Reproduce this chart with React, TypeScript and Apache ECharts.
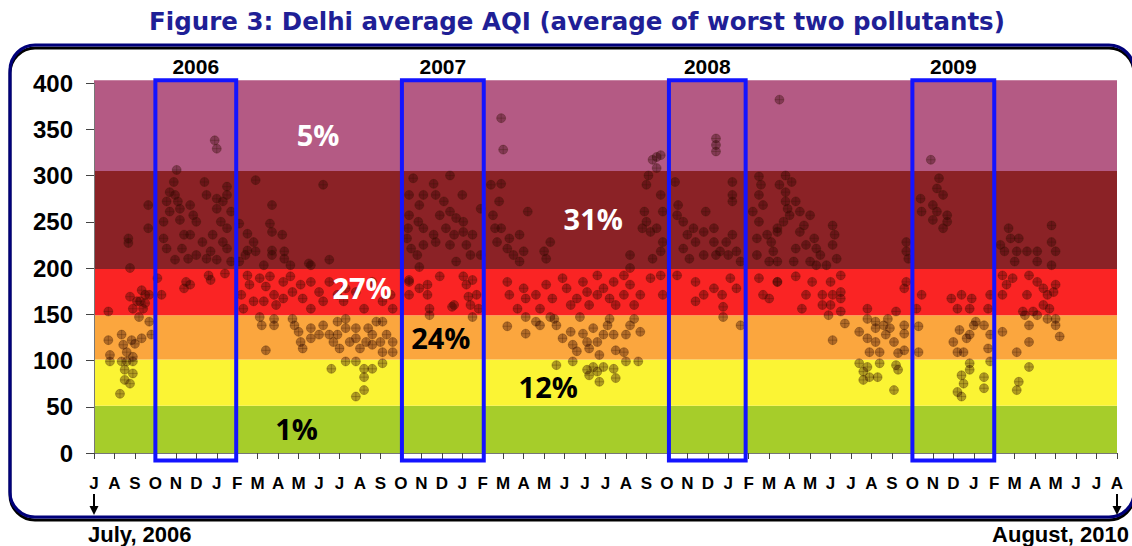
import React, { useEffect, useRef } from "react";
import * as echarts from "echarts";

// ---- Axis / category data ----
const monthLabels = [
  "J", "A", "S", "O", "N", "D",
  "J", "F", "M", "A", "M", "J", "J", "A", "S", "O", "N", "D",
  "J", "F", "M", "A", "M", "J", "J", "J", "A", "S", "O", "N", "D",
  "J", "F", "M", "A", "M", "J", "J", "A", "S", "O", "N", "D",
  "J", "F", "M", "A", "M", "J", "J", "A",
];
const yTicks = [0, 50, 100, 150, 200, 250, 300, 350, 400];

// ---- AQI category bands ----
const bandLow = [0, 51, 101, 149, 199, 305];
const bandHigh = [51, 101, 149, 199, 305, 403];
const bandColors = ["#a6cd2a", "#fbf434", "#fba63e", "#fa2424", "#8b2226", "#b45a84"];

// ---- Share of days in each band (annotations) ----
const pctText = ["5%", "31%", "27%", "24%", "12%", "1%"];
const pctMonth = [10.95, 24.4, 13.1, 16.95, 22.2, 9.9];
const pctAqi = [344, 254, 179, 125, 72, 27];
const pctColor = ["#ffffff", "#ffffff", "#ffffff", "#000000", "#000000", "#000000"];

// ---- Winter boxes (Oct - Jan) ----
const boxStart = [3.0, 15.05, 28.1, 40.0];
const boxEnd = [6.95, 19.05, 31.85, 44.0];
const boxYear = ["2006", "2007", "2008", "2009"];

// ---- Daily AQI readings: [month index from July 2006, AQI] ----
const summer2006: [number, number][] = [
  [0.7, 122], [1.35, 128], [1.43, 117], [1.84, 122], [2.33, 124], [2.0, 118], [1.6, 109],
  [0.78, 106], [1.9, 104], [1.6, 99], [0.78, 99], [1.35, 99], [1.9, 99], [1.5, 90], [1.9, 86],
  [1.5, 79], [1.76, 75], [1.27, 64], [2.7, 142], [2.8, 128], [2.2, 147],
  [0.7, 153], [1.76, 169], [2.33, 176], [2.5, 171], [1.9, 156], [2.4, 156], [2.1, 164],
  [2.7, 171], [2.25, 164], [2.5, 162],
  [1.68, 232], [1.76, 200], [2.65, 243], [2.65, 268], [1.68, 227],
];
const winter2006: [number, number][] = [
  [4.04, 306], [3.9, 293], [3.7, 282], [3.96, 279], [3.55, 272], [4.1, 272], [4.2, 264],
  [3.7, 261], [3.4, 250], [4.2, 252], [4.7, 268], [4.85, 257], [5.4, 293], [5.5, 279],
  [6.0, 275], [6.5, 288], [6.5, 279], [6.3, 272], [6.0, 264], [6.2, 250], [5.8, 236],
  [5.0, 250], [4.4, 236], [3.4, 232], [3.55, 221], [4.3, 221], [4.7, 236], [5.0, 214],
  [5.5, 210], [5.3, 228], [6.3, 228], [6.5, 221], [5.7, 218], [6.5, 243], [6.0, 209],
  [3.96, 209], [4.6, 210], [6.7, 261], [6.7, 207], [5.9, 338], [6.0, 329],
  [5.6, 192], [4.7, 182], [4.5, 185], [5.7, 187], [6.4, 194], [3.3, 171], [3.1, 189], [4.4, 178],
];
const year2007: [number, number][] = [
  [7.9, 295], [8.7, 268], [8.6, 248], [8.7, 239], [7.5, 237], [7.8, 228], [7.5, 219],
  [7.4, 214], [7.1, 207], [7.9, 218], [8.7, 219], [8.7, 214], [9.2, 236], [9.3, 218],
  [9.3, 210], [8.3, 203], [9.6, 203], [11.2, 290], [11.5, 209], [10.6, 203], [7.1, 248],
  [7.5, 192], [7.2, 171], [7.3, 156], [7.6, 182], [8.1, 189], [8.4, 180], [8.6, 191],
  [8.8, 171], [8.9, 160], [9.25, 185], [9.6, 191], [9.7, 174], [10.1, 182], [10.2, 167],
  [10.5, 205], [10.6, 185], [10.6, 156], [11.0, 174], [11.2, 164], [11.5, 185], [11.9, 171],
  [12.2, 164], [12.3, 178], [12.8, 174], [13.2, 156], [13.6, 185], [14.1, 164], [14.5, 171],
  [14.6, 156], [7.8, 164], [8.3, 164], [9.25, 167],
  [8.1, 147], [8.2, 138], [8.8, 145], [8.8, 138], [9.7, 145], [9.8, 138], [10.0, 131],
  [10.1, 120], [10.2, 113], [10.6, 135], [10.6, 124], [11.0, 128], [11.2, 138], [11.5, 128],
  [11.7, 120], [11.9, 142], [11.9, 128], [12.0, 113], [12.3, 135], [12.5, 120], [12.8, 135],
  [12.8, 124], [13.0, 113], [13.3, 120], [13.6, 128], [13.6, 117], [13.8, 142], [14.0, 120],
  [14.1, 142], [14.3, 128], [14.6, 120], [14.6, 109], [8.4, 111], [12.3, 145], [14.1, 109],
  [13.4, 135],
  [11.6, 91], [12.3, 99], [12.8, 99], [13.2, 91], [13.2, 82], [14.1, 97], [13.2, 68],
  [12.8, 61], [13.6, 91],
];
const winter2007: [number, number][] = [
  [15.6, 297], [15.4, 279], [15.9, 268], [16.1, 279], [15.4, 257], [15.85, 250], [16.1, 243],
  [15.3, 232], [15.5, 221], [16.1, 225], [15.8, 214], [15.9, 201], [15.35, 243],
  [15.4, 185], [15.9, 178], [16.3, 171], [15.4, 171], [16.4, 156],
  [16.6, 291], [17.4, 300], [16.7, 279], [17.1, 272], [18.0, 279], [16.9, 257], [17.4, 261],
  [17.7, 254], [18.05, 250], [16.6, 236], [17.2, 243], [17.6, 236], [18.05, 239], [16.7, 228],
  [17.4, 225], [18.2, 225], [18.5, 236], [18.9, 264], [18.9, 214], [18.4, 214], [17.7, 207],
  [16.9, 191], [18.05, 191], [18.2, 182], [18.5, 187], [18.7, 171], [18.4, 160], [17.6, 160],
  [18.3, 169], [18.8, 156], [15.4, 187], [16.3, 182], [17.5, 158],
  [18.5, 147], [16.4, 149],
];
const year2008: [number, number][] = [
  [19.9, 362], [20.0, 328], [27.5, 320], [27.7, 322], [27.5, 308], [27.3, 317],
  [19.4, 290], [19.9, 291], [19.8, 272], [19.5, 257], [19.6, 243], [19.9, 243], [19.7, 228],
  [20.3, 232], [20.2, 221], [20.8, 236], [20.5, 214], [21.0, 218], [20.8, 207], [21.2, 261],
  [22.0, 218], [22.1, 210], [22.3, 228], [26.2, 214], [26.2, 200], [27.0, 290], [26.9, 261],
  [26.8, 243], [27.0, 250], [27.2, 239], [27.7, 279], [27.8, 261], [27.5, 243], [27.8, 228],
  [27.3, 210], [27.7, 218], [27.1, 300],
  [20.2, 185], [20.3, 171], [20.7, 156], [21.0, 178], [21.1, 167], [21.6, 171], [21.8, 156],
  [22.1, 182], [22.4, 167], [22.9, 189], [23.1, 178], [23.3, 160], [23.6, 167], [23.9, 185],
  [24.1, 174], [24.2, 160], [24.6, 192], [24.6, 171], [24.9, 178], [25.2, 167], [25.4, 185],
  [25.5, 160], [25.9, 192], [25.9, 171], [26.2, 182], [26.4, 160], [26.7, 171], [27.2, 189],
  [27.7, 192], [27.8, 171],
  [20.2, 137], [21.1, 129], [21.6, 142], [21.8, 138], [22.6, 138], [22.5, 145], [22.9, 124],
  [23.3, 131], [23.4, 117], [23.6, 110], [23.9, 129], [24.1, 120], [24.2, 113], [24.4, 135],
  [24.6, 120], [24.7, 106], [24.9, 128], [25.1, 138], [25.2, 145], [25.4, 128], [25.5, 111],
  [25.9, 109], [26.0, 128], [26.2, 138], [26.4, 145], [26.7, 131], [23.75, 147], [22.3, 147],
  [21.1, 147],
  [22.6, 95], [23.4, 99], [24.1, 90], [24.2, 84], [24.6, 88], [24.7, 77], [24.9, 93],
  [25.4, 91], [25.5, 81], [26.0, 99], [26.6, 99], [24.4, 93],
];
const winter2008: [number, number][] = [
  [30.4, 340], [30.4, 333], [30.4, 326],
  [28.4, 293], [28.55, 268], [28.5, 257], [28.8, 250], [29.3, 243], [29.0, 236], [29.4, 228],
  [29.9, 261], [29.8, 239], [30.3, 243], [30.3, 228], [30.6, 218], [30.9, 228], [31.2, 236],
  [31.2, 293], [31.2, 279], [31.2, 272], [31.4, 218], [31.6, 207], [28.8, 221], [29.1, 210],
  [29.8, 214], [30.4, 214], [31.0, 214],
  [28.5, 192], [29.4, 185], [29.8, 171], [30.3, 178], [30.7, 171], [29.4, 164], [31.1, 189],
  [31.4, 178], [30.75, 158],
  [30.75, 147], [31.6, 138],
];
const year2009: [number, number][] = [
  [32.5, 299], [32.6, 290], [32.5, 279], [32.7, 268], [32.2, 261], [32.5, 250], [32.9, 236],
  [32.4, 232], [33.2, 218], [32.4, 214], [33.0, 207], [33.4, 243],
  [32.5, 189], [32.7, 171], [33.0, 167], [33.4, 185],
  [33.5, 382],
  [33.8, 300], [33.5, 290], [34.1, 293], [33.8, 282], [33.8, 272], [34.3, 272], [33.9, 264],
  [34.0, 257], [34.5, 261], [33.7, 250], [34.7, 246], [33.4, 239], [35.2, 232], [35.3, 221],
  [34.8, 225], [35.5, 214], [34.3, 221], [33.4, 207], [34.2, 207], [35.0, 207], [36.1, 246],
  [36.2, 236], [36.1, 225], [36.3, 210], [35.3, 203], [35.8, 203], [35.0, 257], [34.5, 239],
  [39.7, 228], [39.7, 218], [39.8, 210], [33.1, 228],
  [33.4, 185], [34.3, 191], [35.1, 185], [36.0, 185], [36.5, 192], [34.8, 171], [35.6, 171],
  [36.1, 171], [36.5, 174], [35.6, 160], [36.0, 160], [36.5, 167], [34.6, 156], [37.8, 156],
  [39.7, 185], [39.6, 178], [39.2, 153],
  [35.9, 149], [36.7, 140], [36.5, 153], [36.1, 122], [37.4, 131], [37.8, 124], [37.8, 145],
  [38.2, 142], [38.2, 135], [38.2, 120], [38.4, 109], [37.9, 109], [38.6, 138], [38.7, 128],
  [38.9, 135], [39.1, 120], [38.8, 145], [39.3, 108], [39.6, 138], [39.6, 129], [39.6, 111],
  [37.4, 97], [37.8, 93], [37.6, 88], [37.9, 82], [37.6, 79], [38.4, 97], [38.3, 82],
  [39.2, 95], [39.3, 90], [39.1, 68],
];
const winter2009: [number, number][] = [
  [40.9, 317], [41.3, 297], [41.2, 286], [41.5, 279], [40.4, 275], [41.0, 268], [40.45, 261],
  [41.2, 261], [41.7, 257], [41.0, 252], [41.7, 250], [41.5, 243],
  [40.45, 171], [41.9, 167], [42.4, 171], [42.9, 167], [42.2, 156], [42.8, 156], [43.7, 156],
  [43.8, 171], [40.2, 156],
  [40.3, 137], [42.3, 133], [43.0, 138], [42.8, 128], [42.0, 120], [42.2, 109], [42.5, 109],
  [42.65, 124], [43.5, 138], [43.8, 128], [43.7, 113], [40.3, 109], [43.1, 142],
  [42.8, 97], [42.8, 90], [42.4, 84], [42.5, 75], [42.2, 66], [42.4, 61], [43.5, 82],
  [43.5, 70], [43.8, 99],
];
const spring2010: [number, number][] = [
  [44.3, 225], [44.5, 218], [44.8, 232], [44.7, 243], [45.1, 218], [45.6, 218], [45.2, 232],
  [46.1, 218], [46.8, 246], [46.8, 228], [47.0, 218], [46.1, 207], [46.8, 203], [45.0, 207],
  [44.4, 192], [44.6, 182], [44.9, 189], [45.7, 192], [46.1, 185], [46.4, 178], [46.6, 171],
  [46.9, 174], [47.0, 182], [44.4, 171], [45.6, 171], [46.4, 160], [46.7, 156], [45.9, 153],
  [45.4, 153],
  [44.4, 131], [45.1, 109], [45.7, 138], [45.7, 120], [46.6, 145], [47.0, 145], [47.2, 126],
  [46.1, 149], [45.5, 149], [47.0, 138],
  [45.7, 93], [45.2, 77], [45.1, 68],
];

const allPoints = [
  ...summer2006, ...winter2006, ...year2007, ...winter2007,
  ...year2008, ...winter2008, ...year2009, ...winter2009, ...spring2010,
];

const X_MIN = 0;
const X_MAX = monthLabels.length - 1;

export default function App() {
  const ref = useRef<HTMLDivElement>(null);

  useEffect(() => {
    if (!ref.current) return;
    const chart = echarts.init(ref.current, undefined, { renderer: "svg" });

    const option: any = {
      animation: false,
      backgroundColor: "#ffffff",
      grid: { left: 94, right: 15, top: 83, bottom: 93 },
      xAxis: {
        type: "value",
        min: X_MIN,
        max: X_MAX,
        interval: 1,
        splitLine: { show: false },
        axisLine: { show: true, lineStyle: { color: "#777", width: 1 } },
        axisTick: { show: true, length: 6, lineStyle: { color: "#444" } },
        axisLabel: {
          margin: 22,
          color: "#000",
          fontSize: 17,
          fontWeight: "bold",
          fontFamily: "Liberation Sans",
          formatter: (v: number) => monthLabels[Math.round(v)] ?? "",
        },
      },
      yAxis: {
        type: "value",
        min: yTicks[0],
        max: yTicks[yTicks.length - 1],
        interval: 50,
        splitLine: { show: false },
        axisLine: { show: true, lineStyle: { color: "#777", width: 1 } },
        axisTick: { show: true, length: 8, lineStyle: { color: "#444" } },
        axisLabel: {
          margin: 21,
          color: "#000",
          fontSize: 24,
          fontWeight: "bold",
          fontFamily: "Liberation Sans",
        },
      },
      series: [
        {
          type: "custom",
          name: "bands",
          z: 0,
          silent: true,
          clip: false,
          encode: { x: 0, y: 1 },
          data: bandLow.map((lo, i) => [i, lo, bandHigh[i]]),
          renderItem: (params: any, api: any) => {
            const i = api.value(0);
            const p1 = api.coord([X_MIN, api.value(2)]);
            const p2 = api.coord([X_MAX, api.value(1)]);
            return {
              type: "rect",
              shape: { x: p1[0], y: p1[1], width: p2[0] - p1[0], height: p2[1] - p1[1] },
              style: { fill: bandColors[i] },
            };
          },
        },
        {
          type: "scatter",
          name: "AQI",
          z: 2,
          symbol: "path://M10,5A5,5,0,1,1,0,5A5,5,0,1,1,10,5ZM0,5L10,5M5,0L5,10",
          symbolSize: 9,
          itemStyle: {
            color: "rgba(45,0,0,0.36)",
            borderColor: "rgba(50,25,0,0.32)",
            borderWidth: 0.8,
            opacity: 1,
          },
          data: allPoints,
        },
        {
          type: "custom",
          name: "winters",
          z: 5,
          silent: true,
          clip: false,
          encode: { x: 0, y: 2 },
          data: boxStart.map((s, i) => [s, boxEnd[i], 200, i]),
          renderItem: (params: any, api: any) => {
            const i = api.value(3);
            const p1 = api.coord([api.value(0), 403]);
            const p2 = api.coord([api.value(1), -8]);
            return {
              type: "group",
              children: [
                {
                  type: "rect",
                  shape: { x: p1[0], y: p1[1], width: p2[0] - p1[0], height: p2[1] - p1[1] },
                  style: { fill: "none", stroke: "#1414ff", lineWidth: 4 },
                },
                {
                  type: "text",
                  x: (p1[0] + p2[0]) / 2,
                  y: p1[1] - 14,
                  style: {
                    text: boxYear[i],
                    fill: "#000",
                    fontSize: 21,
                    fontWeight: "bold",
                    fontFamily: "Liberation Sans",
                    align: "center",
                    verticalAlign: "middle",
                    textAlign: "center",
                    textVerticalAlign: "middle",
                  },
                },
              ],
            };
          },
        },
        {
          type: "custom",
          name: "shares",
          z: 6,
          silent: true,
          clip: false,
          encode: { x: 0, y: 1 },
          data: pctText.map((t, i) => [pctMonth[i], pctAqi[i], i]),
          renderItem: (params: any, api: any) => {
            const i = api.value(2);
            const p = api.coord([api.value(0), api.value(1)]);
            return {
              type: "text",
              x: p[0],
              y: p[1],
              style: {
                text: pctText[i],
                fill: pctColor[i],
                opacity: 1,
                fontSize: 29,
                fontWeight: "bold",
                fontFamily: "Open Sans",
                align: "center",
                verticalAlign: "middle",
                textAlign: "center",
                textVerticalAlign: "middle",
              },
            };
          },
        },
      ],
      graphic: [
        {
          type: "text",
          x: 577,
          y: 21,
          style: {
            text: "Figure 3: Delhi average AQI (average of worst two pollutants)",
            fill: "#1f1f96",
            fontSize: 24.5,
            fontWeight: "bold",
            fontFamily: "DejaVu Sans",
            align: "center",
            verticalAlign: "middle",
            textAlign: "center",
            textVerticalAlign: "middle",
          },
        },
        {
          type: "rect",
          z: -1,
          shape: { x: 10, y: 45, width: 1124, height: 472, r: 25 },
          style: {
            fill: "none",
            stroke: "#00007a",
            lineWidth: 3,
            shadowColor: "#000",
            shadowOffsetY: 3,
            shadowBlur: 0,
          },
        },
        { type: "line", shape: { x1: 94, y1: 494, x2: 94, y2: 508 }, style: { stroke: "#000", lineWidth: 2 } },
        { type: "polygon", shape: { points: [[89.5, 506], [98.5, 506], [94, 515]] }, style: { fill: "#000" } },
        { type: "line", shape: { x1: 1117, y1: 494, x2: 1117, y2: 508 }, style: { stroke: "#000", lineWidth: 2 } },
        { type: "polygon", shape: { points: [[1112.5, 506], [1121.5, 506], [1117, 515]] }, style: { fill: "#000" } },
        {
          type: "text",
          x: 88,
          y: 534,
          style: {
            text: "July, 2006",
            fill: "#000",
            fontSize: 22,
            fontWeight: "bold",
            fontFamily: "Liberation Sans",
            align: "left",
            verticalAlign: "middle",
            textAlign: "left",
            textVerticalAlign: "middle",
          },
        },
        {
          type: "text",
          x: 1129,
          y: 534,
          style: {
            text: "August, 2010",
            fill: "#000",
            fontSize: 22,
            fontWeight: "bold",
            fontFamily: "Liberation Sans",
            align: "right",
            verticalAlign: "middle",
            textAlign: "right",
            textVerticalAlign: "middle",
          },
        },
      ],
    };

    chart.setOption(option);
    return () => chart.dispose();
  }, []);

  return (
    <div
      ref={ref}
      style={{ position: "absolute", left: 0, top: 0, width: 1132, height: 546 }}
    />
  );
}
